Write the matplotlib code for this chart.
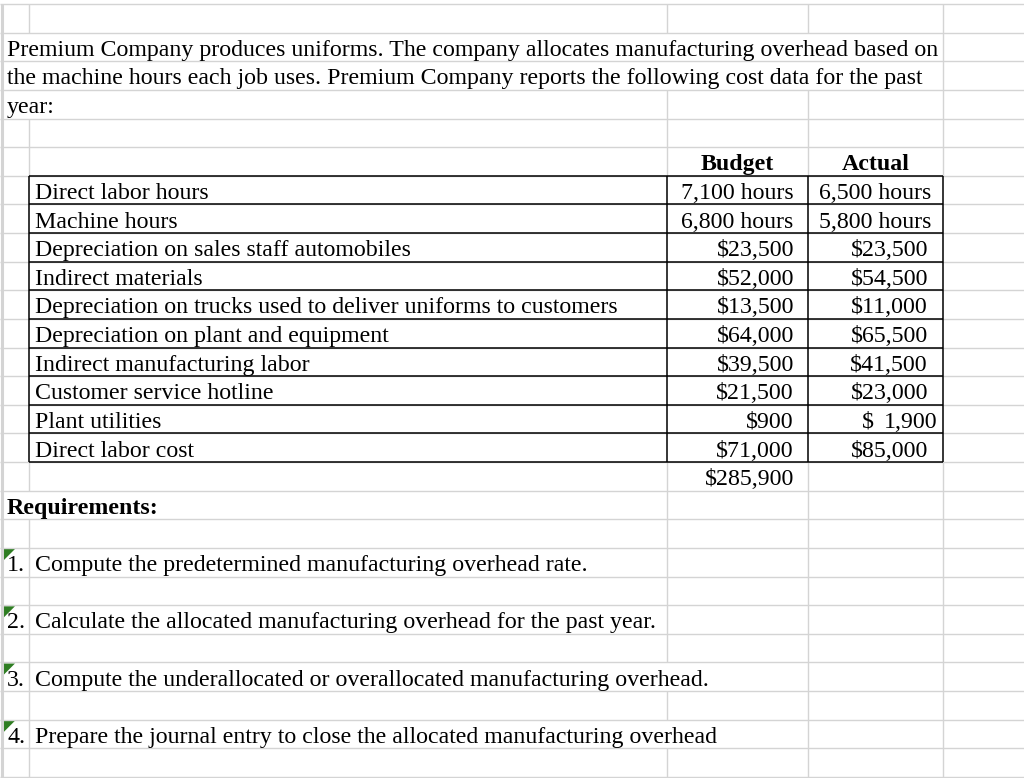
import matplotlib.pyplot as plt

# dados da planilha ==========================================================

intro = ["Premium Company produces uniforms. The company allocates manufacturing overhead based on",
         "the machine hours each job uses. Premium Company reports the following cost data for the past",
         "year:"]

labels = ["Direct labor hours", "Machine hours", "Depreciation on sales staff automobiles",
          "Indirect materials", "Depreciation on trucks used to deliver uniforms to customers",
          "Depreciation on plant and equipment", "Indirect manufacturing labor",
          "Customer service hotline", "Plant utilities", "Direct labor cost"]
budget = [7100, 6800, 23500, 52000, 13500, 64000, 39500, 21500, 900, 71000]
actual = [6500, 5800, 23500, 54500, 11000, 65500, 41500, 23000, 1900, 85000]
units = ["hours", "hours", "$", "$", "$", "$", "$", "$", "$", "$"]
budget_total = 285900

requirements = ["Compute the predetermined manufacturing overhead rate.",
                "Calculate the allocated manufacturing overhead for the past year.",
                "Compute the underallocated or overallocated manufacturing overhead.",
                "Prepare the journal entry to close the allocated manufacturing overhead"]

# geometria da grade (pixels) ================================================
col_x = [2, 29, 667, 808, 943]
y0 = 4
h = 28.63
nrows = 27
grid_c = "#d4d4d4"
FONT = "Liberation Serif"
FS = 17.2


def top(r):
    return y0 + r * h


def base(r):
    return top(r + 1) - 5.5


def fmt(v, u):
    if u == "hours":
        return f"{v:,} hours"
    return f"${v:,}"


fig = plt.figure(figsize=(10.24, 7.78), dpi=100)
ax = fig.add_axes([0, 0, 1, 1])
ax.set_xlim(0, 1024)
ax.set_ylim(778, 0)
ax.axis("off")

# linhas horizontais da grade
for r in range(nrows + 1):
    ax.hlines(top(r), 0, 1024, color=grid_c, lw=1.0)

# linhas verticais: colunas escondidas por texto que transborda
hidden = {1: [29, 667, 808], 2: [29, 667, 808], 3: [29], 17: [29], 23: [667], 25: [667]}
for r in range(nrows):
    if 6 <= r <= 15:
        ax.vlines(col_x[0], top(r), top(r + 1), color=grid_c, lw=2.2)
        continue
    for x in col_x:
        if x in hidden.get(r, []):
            continue
        ax.vlines(x, top(r), top(r + 1), color=grid_c, lw=2.2 if x == 2 else 1.0)

# texto introdutorio
for i, s in enumerate(intro):
    ax.text(7, base(1 + i), s, fontsize=FS, family=FONT, va="baseline", ha="left")

# cabecalho
ax.text(737, base(5), "Budget", fontsize=FS, family=FONT, weight="bold", va="baseline", ha="center")
ax.text(876, base(5), "Actual", fontsize=FS, family=FONT, weight="bold", va="baseline", ha="center")

# tabela
for i in range(len(labels)):
    r = 6 + i
    ax.text(35, base(r), labels[i], fontsize=FS, family=FONT, va="baseline", ha="left")
    if units[i] == "hours":
        ax.text(737, base(r), fmt(budget[i], units[i]), fontsize=FS, family=FONT, va="baseline", ha="center")
        ax.text(875, base(r), fmt(actual[i], units[i]), fontsize=FS, family=FONT, va="baseline", ha="center")
    else:
        ax.text(794, base(r), fmt(budget[i], units[i]), fontsize=FS, family=FONT, va="baseline", ha="right")
        if actual[i] == 1900:
            ax.text(937, base(r), f"{actual[i]:,}", fontsize=FS, family=FONT, va="baseline", ha="right")
            ax.text(862, base(r), "$", fontsize=FS, family=FONT, va="baseline", ha="left")
        else:
            ax.text(928, base(r), fmt(actual[i], units[i]), fontsize=FS, family=FONT, va="baseline", ha="right")

# bordas pretas da tabela
t0, t1 = top(6), top(16)
for r in range(6, 17):
    ax.hlines(top(r), 29, 943, color="black", lw=1.1)
for x in col_x[1:]:
    ax.vlines(x, t0, t1, color="black", lw=1.1)

ax.text(794, base(16), f"${budget_total:,}", fontsize=FS, family=FONT, va="baseline", ha="right")

# requisitos
ax.text(7, base(17), "Requirements:", fontsize=FS, family=FONT, weight="bold", va="baseline", ha="left")
for i, s in enumerate(requirements):
    r = 19 + 2 * i
    ax.text(7, base(r), f"{i + 1}.", fontsize=FS, family=FONT, va="baseline", ha="left")
    ax.text(35, base(r), s, fontsize=FS, family=FONT, va="baseline", ha="left")
    ax.fill([3, 15, 3], [top(r) + 1, top(r) + 1, top(r) + 13], color="#2e7d22", lw=0)

fig.savefig("out.png", dpi=100)
